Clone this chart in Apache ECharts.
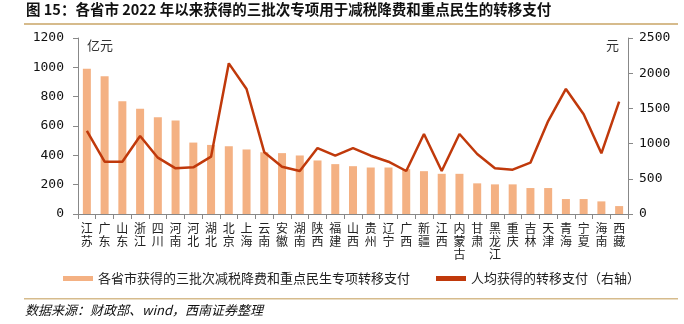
<!DOCTYPE html>
<html>
<head>
<meta charset="utf-8">
<script src="https://cdn.jsdelivr.net/npm/echarts@6/dist/echarts.min.js"></script>
<style>
  html, body { margin: 0; padding: 0; background: #fff; }
  #chart { width: 684px; height: 324px; }
</style>
</head>
<body>
<div id="chart"></div>
<script>
// Provinces, ordered by total transfer received
const provinces = ['江苏','广东','山东','浙江','四川','河南','河北','湖北','北京','上海','云南','安徽','湖南','陕西','福建','山西','贵州','辽宁','广西','新疆','江西','内蒙古','甘肃','黑龙江','重庆','吉林','天津','青海','宁夏','海南','西藏'];
// Special transfer payments received (100 million yuan), left axis
const transferTotal = [990,940,768,718,659,637,487,471,462,440,421,415,399,365,340,326,317,317,306,292,274,274,209,202,202,177,177,102,102,86,54];
// Per-capita transfer payments (yuan), right axis
const transferPerCapita = [1179,743,743,1108,800,649,663,814,2140,1776,876,672,611,937,830,937,828,743,611,1136,611,1136,852,649,630,729,1320,1776,1416,862,1595];

const leftTicks = [0,200,400,600,800,1000,1200];
const rightTicks = [0,500,1000,1500,2000,2500];

const chart = echarts.init(document.getElementById('chart'));
const axisFont = { fontFamily: 'DejaVu Sans Mono', fontSize: 13, color: '#111' };
const cjk = 'Noto Sans CJK SC';

chart.setOption({
  animation: false,
  backgroundColor: '#fff',
  grid: { left: 78, right: 56, top: 38, bottom: 110 },
  graphic: [
    { type: 'text', left: 26, top: 2, style: { text: '图 15：各省市 2022 年以来获得的三批次专项用于减税降费和重点民生的转移支付', font: 'bold 14.5px "Noto Sans CJK SC"', fill: '#111' } },
    { type: 'rect', shape: { x: 24, y: 23, width: 654, height: 2 }, style: { fill: '#D6BB8C' } },
    { type: 'rect', shape: { x: 24, y: 298, width: 654, height: 1.5 }, style: { fill: '#D6BB8C' } },
    { type: 'text', left: 25, top: 304, style: { text: '数据来源：财政部、wind，西南证券整理', font: 'italic 13px "Noto Sans CJK SC"', fill: '#111' } },
    { type: 'text', left: 87, top: 39, style: { text: '亿元', font: '13px "Noto Sans CJK SC"', fill: '#333' } },
    { type: 'text', left: 606, top: 39, style: { text: '元', font: '13px "Noto Sans CJK SC"', fill: '#333' } }
  ],
  legend: {
    bottom: 34,
    left: 58,
    itemGap: 26,
    itemWidth: 30,
    itemHeight: 5,
    textStyle: { fontFamily: cjk, fontSize: 13, color: '#222' },
    data: [
      { name: '各省市获得的三批次减税降费和重点民生专项转移支付', icon: 'rect' },
      { name: '人均获得的转移支付（右轴）', icon: 'rect' }
    ]
  },
  xAxis: {
    type: 'category',
    data: provinces,
    axisLine: { lineStyle: { color: '#888' } },
    axisTick: { show: true, alignWithLabel: false, lineStyle: { color: '#888' } },
    axisLabel: {
      interval: 0,
      fontFamily: cjk,
      fontSize: 12,
      lineHeight: 13,
      color: '#222',
      margin: 8,
      formatter: v => v.split('').join('\n')
    }
  },
  yAxis: [
    {
      type: 'value', min: 0, max: 1200, interval: 200,
      axisLine: { show: true, lineStyle: { color: '#888' } },
      axisTick: { show: true, lineStyle: { color: '#888' } },
      splitLine: { show: false },
      axisLabel: Object.assign({ margin: 14, formatter: v => leftTicks.includes(v) ? String(v) : '' }, axisFont)
    },
    {
      type: 'value', min: 0, max: 2500, interval: 500,
      axisLine: { show: true, lineStyle: { color: '#888' } },
      axisTick: { show: true, lineStyle: { color: '#888' } },
      splitLine: { show: false },
      axisLabel: Object.assign({ margin: 11, formatter: v => rightTicks.includes(v) ? String(v) : '' }, axisFont)
    }
  ],
  series: [
    {
      name: '各省市获得的三批次减税降费和重点民生专项转移支付',
      type: 'bar',
      data: transferTotal,
      barWidth: 8,
      itemStyle: { color: '#F4B183' }
    },
    {
      name: '人均获得的转移支付（右轴）',
      type: 'line',
      yAxisIndex: 1,
      data: transferPerCapita,
      symbol: 'none',
      lineStyle: { color: '#C0390B', width: 2.5 },
      itemStyle: { color: '#C0390B' }
    }
  ]
});
</script>
</body>
</html>
